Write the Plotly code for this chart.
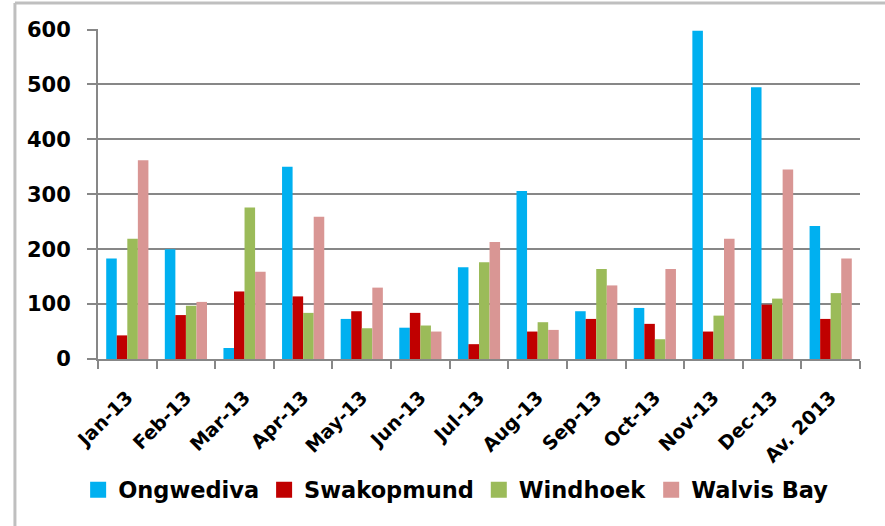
import plotly.graph_objects as go

categories = ["Jan-13", "Feb-13", "Mar-13", "Apr-13", "May-13", "Jun-13", "Jul-13",
              "Aug-13", "Sep-13", "Oct-13", "Nov-13", "Dec-13", "Av. 2013"]
ongwediva = [183, 200, 20, 350, 73, 57, 167, 306, 87, 93, 598, 495, 242]
swakopmund = [43, 80, 123, 114, 87, 84, 27, 50, 73, 64, 50, 99, 73]
windhoek = [219, 97, 276, 84, 56, 61, 176, 67, 164, 36, 79, 110, 120]
walvis_bay = [362, 104, 159, 259, 130, 50, 213, 53, 134, 164, 219, 345, 183]
y_ticks = [0, 100, 200, 300, 400, 500, 600]

series = [("Ongwediva", ongwediva, "#00B0F0"),
          ("Swakopmund", swakopmund, "#C00000"),
          ("Windhoek", windhoek, "#9BBB59"),
          ("Walvis Bay", walvis_bay, "#D99694")]

FONT = "DejaVu Sans"
GRAY = "#878787"

fig = go.Figure()
for name, vals, col in series:
    fig.add_trace(go.Bar(x=categories, y=vals, name=name, marker_color=col,
                         marker_line_width=0, showlegend=False, legendgroup=name))
for name, vals, col in series:
    fig.add_trace(go.Scatter(x=[None], y=[None], mode="markers", name=name,
                             marker=dict(symbol="square", size=18, color=col),
                             legendgroup=name, showlegend=True))

fig.update_layout(
    width=885, height=526,
    margin=dict(l=98, r=25, t=29, b=167),
    paper_bgcolor="white", plot_bgcolor="white",
    barmode="group", bargap=0.28, bargroupgap=0,
    font=dict(family=FONT, color="black"),
    legend=dict(orientation="h", x=0.47, xanchor="center", y=-0.397, yanchor="middle",
                font=dict(family=FONT, size=22.5, weight="bold", color="black"),
                itemsizing="trace", tracegroupgap=0, itemwidth=30),
    shapes=[
        dict(type="line", xref="paper", yref="paper", x0=-0.109, x1=1.1, y0=1.079, y1=1.079,
             line=dict(color="#BFBFBF", width=3)),
        dict(type="line", xref="paper", yref="paper", x0=-0.109, x1=-0.109, y0=1.079, y1=-0.6,
             line=dict(color="#BFBFBF", width=3)),
    ],
)
fig.update_xaxes(
    automargin=False,
    showline=True, linecolor=GRAY, linewidth=2,
    ticks="outside", tickson="boundaries", ticklen=8, tickwidth=2, tickcolor=GRAY,
    tickangle=-45, tickfont=dict(family=FONT, size=19, weight="bold", color="black"),
    ticklabelstandoff=18,
    showgrid=False,
)
fig.update_yaxes(
    automargin=False,
    range=[0, 601], tickvals=y_ticks, showline=True, linecolor=GRAY, linewidth=2,
    ticks="outside", ticklen=9, tickwidth=2, tickcolor=GRAY,
    showgrid=True, gridcolor=GRAY, gridwidth=2, zeroline=False,
    tickfont=dict(family=FONT, size=21, weight="bold", color="black"),
    ticklabelstandoff=12,
)

fig.write_html("out.html", config={"displayModeBar": False},
               post_script="document.body.style.margin='0';")
